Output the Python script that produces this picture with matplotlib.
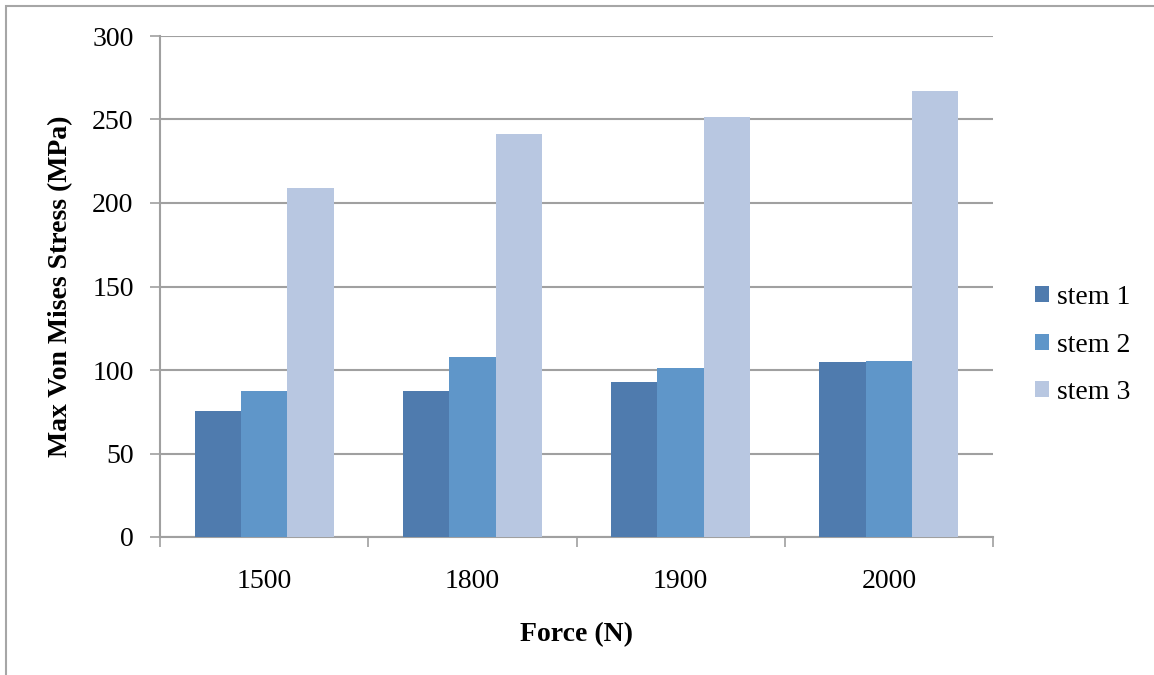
import matplotlib
matplotlib.use("Agg")
import matplotlib.pyplot as plt
import numpy as np
from matplotlib.patches import Rectangle

categories = ["1500", "1800", "1900", "2000"]
series_names = ["stem 1", "stem 2", "stem 3"]
stem1 = [75.6, 87.6, 92.8, 104.8]
stem2 = [87.6, 107.8, 101.0, 105.6]
stem3 = [208.8, 241.6, 251.5, 266.8]
colors = ["#4F7BAE", "#5F96C9", "#B8C7E1"]

plt.rcParams['font.family'] = ['Liberation Serif', 'DejaVu Serif']

fig = plt.figure(figsize=(11.54, 6.75), dpi=100)
fig.patches.append(Rectangle((6/1154, -0.01), 1.1, 1 - 6/675 + 0.01, transform=fig.transFigure,
                             fill=False, edgecolor="#A6A6A6", linewidth=1.5))
ax = fig.add_axes([160/1154, 1 - 537/675, (993 - 160)/1154, (537 - 36)/675])

x = np.arange(len(categories))
w = 1 / 4.5
for i, (vals, name, c) in enumerate(zip([stem1, stem2, stem3], series_names, colors)):
    ax.bar(x + (i - 1) * w, vals, width=w, color=c, label=name, zorder=3)

ax.set_xlim(-0.5, len(categories) - 0.5)
ax.set_ylim(0, 300)
ax.set_yticks(np.arange(0, 301, 50))
ax.yaxis.grid(True, color="#A0A0A0", linewidth=1.5, zorder=0)
ax.set_axisbelow(True)

ax.set_xticks(np.arange(-0.5, len(categories)), labels=[])
ax.set_xticks(x, labels=categories, minor=True)
ax.tick_params(axis='x', which='major', direction='out', length=7, width=1.2, color="#A0A0A0")
ax.tick_params(axis='x', which='minor', length=0, pad=23, labelsize=20)
ax.tick_params(axis='y', direction='out', length=7, width=1.2, color="#A0A0A0", labelsize=20, pad=12)

for s in ["top", "right"]:
    ax.spines[s].set_visible(False)
for s in ["left", "bottom"]:
    ax.spines[s].set_color("#A0A0A0")
    ax.spines[s].set_linewidth(1.5)

ax.set_xlabel("Force (N)", fontsize=20, fontweight='bold', labelpad=20)
ax.set_ylabel("Max Von Mises Stress (MPa)", fontsize=20, fontweight='bold', labelpad=14)

ax.legend(loc='center left', bbox_to_anchor=(1035/1154, 1 - 345/675), bbox_transform=fig.transFigure,
          frameon=False, fontsize=20, handlelength=0.5, handleheight=0.5, handletextpad=0.3,
          labelspacing=0.81, borderaxespad=0, borderpad=0)

fig.savefig("out.png", dpi=100)
